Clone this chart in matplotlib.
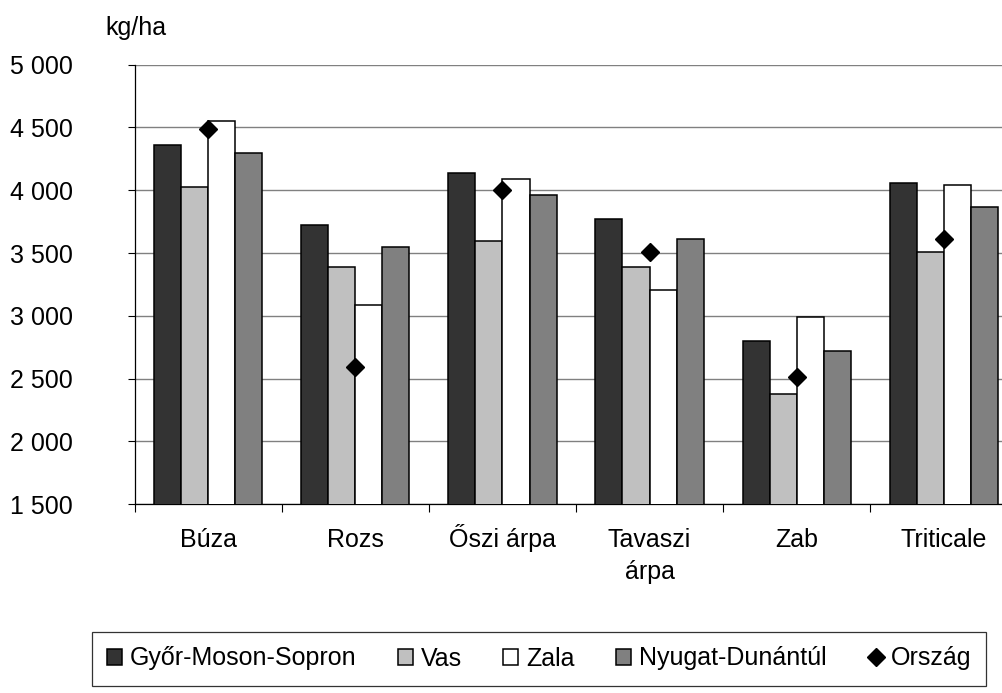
import matplotlib
matplotlib.use("Agg")
import matplotlib.pyplot as plt
import numpy as np
from matplotlib.ticker import FuncFormatter, FixedLocator
from matplotlib.transforms import ScaledTranslation

plt.rcParams['font.family'] = ['Liberation Sans', 'DejaVu Sans']

categories = ["Búza", "Rozs", "Őszi árpa", "Tavaszi\nárpa", "Zab", "Triticale"]
series_names = ["Győr-Moson-Sopron", "Vas", "Zala", "Nyugat-Dunántúl"]
gyor = [4360, 3725, 4140, 3770, 2800, 4060]
vas = [4030, 3390, 3600, 3390, 2375, 3505]
zala = [4555, 3090, 4090, 3205, 2995, 4045]
nyugat = [4300, 3550, 3965, 3610, 2720, 3870]
orszag = [4490, 2595, 4000, 3505, 2510, 3615]
yticks = [1500, 2000, 2500, 3000, 3500, 4000, 4500, 5000]

colors = ["#333333", "#c0c0c0", "#ffffff", "#808080"]
FS = 18

W, H = 1002, 693
fig = plt.figure(figsize=(W / 100, H / 100), dpi=100)
left_px, right_px, top_px, bot_px = 134.7, 1002, 64.7, 504.3
ax = fig.add_axes([left_px / W, 1 - bot_px / H, (right_px - left_px) / W, (bot_px - top_px) / H])

x = np.arange(len(categories))
bw = 0.184
series = [gyor, vas, zala, nyugat]
for i, (vals, c, name) in enumerate(zip(series, colors, series_names)):
    ax.bar(x + (i - 1.5) * bw, vals, width=bw, color=c, edgecolor="black",
           linewidth=1.1, label=name, zorder=3)
ax.plot(x, orszag, linestyle="none", marker="D", markersize=9.5,
        color="black", zorder=4, label="Ország")

cat_step_px = 147.1
ax.set_xlim(-0.5, -0.5 + (right_px - left_px) / cat_step_px)
ax.set_ylim(1500, 5000)

ax.yaxis.set_major_locator(FixedLocator(yticks))
ax.yaxis.set_major_formatter(FuncFormatter(lambda v, p: f"{int(v):,}".replace(",", " ")))
ax.grid(axis="y", color="#808080", linewidth=1.0, zorder=0)
ax.tick_params(axis="y", direction="out", length=5.4, width=0.8, color="black",
               labelsize=FS, pad=39)

ax.set_xticks(x)
ax.set_xticklabels(categories, fontsize=FS, linespacing=1.45)
ax.set_xticks(np.arange(len(categories)) - 0.5, minor=True)
ax.tick_params(axis="x", which="major", length=0, pad=17)
ax.tick_params(axis="x", which="minor", direction="out", length=5.8, width=0.8, color="black")

# align the accented label's baseline with the others
for lbl in ax.get_xticklabels():
    if lbl.get_text().startswith("Ő"):
        lbl.set_transform(lbl.get_transform() + ScaledTranslation(0, 3 / 72, fig.dpi_scale_trans))

for s in ["top", "right"]:
    ax.spines[s].set_visible(False)
for s in ["left", "bottom"]:
    ax.spines[s].set_color("black")
    ax.spines[s].set_linewidth(0.9)

fig.text(136 / W, 1 - 28 / H, "kg/ha", fontsize=FS, ha="center", va="center")

handles, labels = ax.get_legend_handles_labels()
order = [labels.index(n) for n in series_names + ["Ország"]]
handles = [handles[i] for i in order]
labels = [labels[i] for i in order]
leg = fig.legend(handles, labels, loc="center", ncol=5, mode="expand",
                 bbox_to_anchor=(92 / W, 1 - 691 / H, (986 - 92) / W, (691 - 626) / H),
                 fontsize=FS, frameon=True, fancybox=False, edgecolor="black",
                 handlelength=0.6, handleheight=0.6, handletextpad=0.3,
                 borderaxespad=0, borderpad=0.6, columnspacing=1.0, markerscale=1.0)
leg.get_frame().set_linewidth(0.9)

fig.savefig("out.png", dpi=100)
